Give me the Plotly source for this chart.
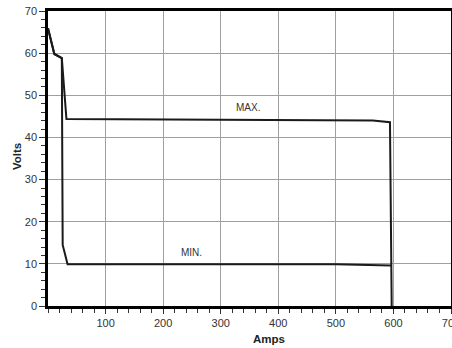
import plotly.graph_objects as go

# Data
max_amps = [0, 11, 24, 32, 564, 594, 597]
max_volts = [65.9, 59.8, 58.8, 44.4, 44.0, 43.6, 0]
min_amps = [0, 11, 24, 25.5, 34, 500, 596]
min_volts = [65.9, 59.8, 58.8, 14.5, 9.9, 9.9, 9.6]

x_ticks = [100, 200, 300, 400, 500, 600, 700]
y_ticks = [0, 10, 20, 30, 40, 50, 60, 70]

labels = [("MAX.", 347, 47), ("MIN.", 250, 12.6)]

fig = go.Figure()
fig.add_trace(go.Scatter(x=max_amps, y=max_volts, mode="lines",
                         line=dict(color="#1a1a1a", width=2), name="MAX", showlegend=False))
fig.add_trace(go.Scatter(x=min_amps, y=min_volts, mode="lines",
                         line=dict(color="#1a1a1a", width=2), name="MIN", showlegend=False))

for txt, xv, yv in labels:
    fig.add_annotation(x=xv, y=yv, text=txt, showarrow=False,
                       font=dict(family="Liberation Sans, Arial", size=10, color="#333"))

# axis titles (placed as in the reference)
fig.add_annotation(xref="paper", yref="paper", x=0.5496, y=0, yshift=-33,
                   text="<b>Amps</b>", showarrow=False, yanchor="middle",
                   font=dict(family="Liberation Sans, Arial", size=11.5, color="#222"))
fig.add_annotation(xref="paper", yref="paper", x=0, y=0.505, xshift=-31,
                   text="<b>Volts</b>", showarrow=False, textangle=-90, xanchor="center",
                   font=dict(family="Liberation Sans, Arial", size=11.5, color="#222"))

fig.update_layout(
    width=452, height=348,
    margin=dict(l=48, r=1, t=11, b=42),
    plot_bgcolor="white", paper_bgcolor="white",
    font=dict(family="Liberation Sans, Arial", size=11, color="#333"),
    xaxis=dict(
        range=[0, 700], tickmode="array", tickvals=x_ticks, automargin=False,
        ticklabeloverflow="allow",
        ticks="outside", ticklen=5, tickcolor="#333", tickwidth=1,
        showline=True, linecolor="black", linewidth=2.5, mirror=True,
        showgrid=True, gridcolor="#a0a0a0", gridwidth=1, zeroline=False,
        minor=dict(dtick=20, ticks="outside", ticklen=4, tickcolor="#333", showgrid=False),
        tickfont=dict(size=11),
    ),
    yaxis=dict(
        range=[0, 70], tickmode="array", tickvals=y_ticks, automargin=False,
        ticks="outside", ticklen=6, tickcolor="#333", tickwidth=1,
        showline=True, linecolor="black", linewidth=2.5, mirror=True,
        showgrid=True, gridcolor="#a0a0a0", gridwidth=1, zeroline=False,
        minor=dict(dtick=2, ticks="outside", ticklen=4, tickcolor="#333", showgrid=False),
        tickfont=dict(size=11),
    ),
)

fig.write_html("out.html", config={"displayModeBar": False},
               post_script="document.body.style.margin='0';document.body.style.overflow='hidden';")
